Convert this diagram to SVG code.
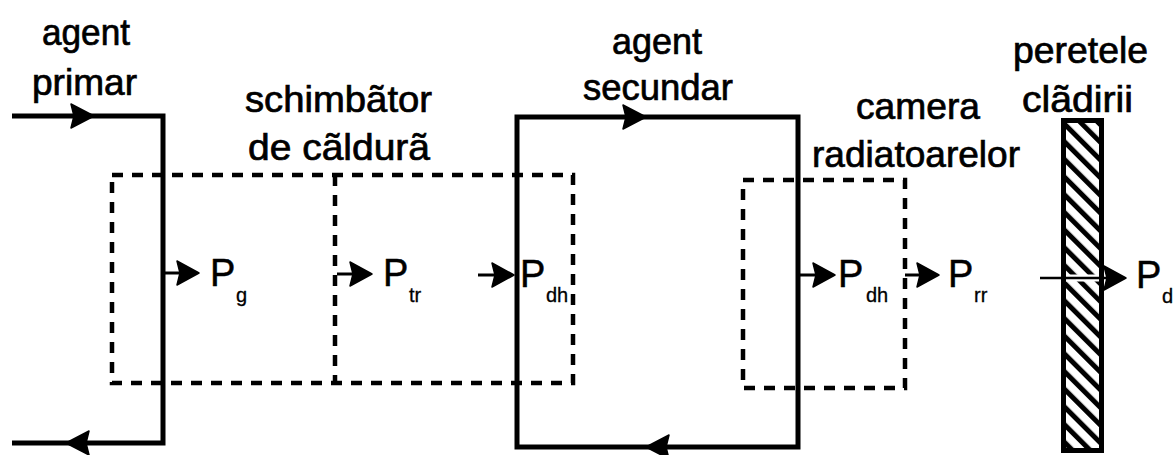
<svg xmlns="http://www.w3.org/2000/svg" width="1173" height="455" viewBox="0 0 1173 455">
  <style>
    .lbl { font-family: "Liberation Sans", Arial, sans-serif; font-size: 36px; fill: #000; stroke: #000; stroke-width: 0.7; }
    .p { font-family: "Liberation Sans", Arial, sans-serif; font-size: 38px; fill: #000; stroke: #000; stroke-width: 0.5; }
    .sub { font-family: "Liberation Sans", Arial, sans-serif; font-size: 20px; fill: #000; stroke: #000; stroke-width: 0.3; }
    .pipe { fill: none; stroke: #000; stroke-width: 5; stroke-linejoin: miter; }
    .bound { fill: none; stroke: #000; stroke-width: 4.5; stroke-dasharray: 11 9; }
    .flow { stroke: #000; stroke-width: 3; }
    .head { fill: #000; stroke: #000; stroke-width: 1.5; stroke-linejoin: round; }
  </style>
  <defs>
    <pattern id="hatch" patternUnits="userSpaceOnUse" width="12.5" height="12.5" patternTransform="rotate(-45)">
      <rect width="12.5" height="12.5" fill="#fff"/>
      <rect width="5" height="12.5" fill="#000"/>
    </pattern>
  </defs>

  <!-- dashed control boundaries -->
  <g id="boundaries">
    <rect class="bound" x="112" y="175" width="461" height="208"/>
    <line class="bound" x1="335" y1="175" x2="335" y2="383"/>
    <rect class="bound" x="743" y="180" width="162" height="208"/>
  </g>

  <!-- primary agent loop -->
  <g id="primary">
    <polyline class="pipe" points="12,116 163,116 163,443 12,443"/>
    <path class="head" d="M94,116 L71,104 L74,116 L71,128 Z"/>
    <path class="head" d="M66,443 L89,431 L86,443 L89,455 Z"/>
  </g>

  <!-- secondary agent loop -->
  <g id="secondary">
    <rect class="pipe" x="517" y="117" width="281" height="330"/>
    <path class="head" d="M646,117 L623,105 L626,117 L623,129 Z"/>
    <path class="head" d="M646,447 L669,435 L666,447 L669,459 Z"/>
  </g>

  <!-- building wall -->
  <g id="wall">
    <rect x="1063.5" y="120.5" width="38" height="330" fill="url(#hatch)" stroke="#000" stroke-width="5"/>
  </g>

  <!-- power flow arrows -->
  <g id="connectors">
    <line class="flow" x1="163" y1="273" x2="182" y2="273"/>
    <path class="head" d="M199,273 L177,261 L180,273 L177,285 Z"/>
    <line class="flow" x1="337" y1="274" x2="355" y2="274"/>
    <path class="head" d="M372,274 L350,262 L353,274 L350,286 Z"/>
    <line class="flow" x1="478" y1="275" x2="497" y2="275"/>
    <path class="head" d="M514,275 L492,263 L495,275 L492,287 Z"/>
    <line class="flow" x1="800" y1="275" x2="818" y2="275"/>
    <path class="head" d="M835,275 L813,263 L816,275 L813,287 Z"/>
    <line class="flow" x1="905" y1="275" x2="922" y2="275"/>
    <path class="head" d="M939,275 L917,263 L920,275 L917,287 Z"/>
    <line x1="1066" y1="278" x2="1099" y2="278" stroke="#fff" stroke-width="7"/>
    <line x1="1040" y1="278" x2="1108" y2="278" stroke="#000" stroke-width="2.5"/>
    <path class="head" d="M1126,278 L1104,266 L1107,278 L1104,290 Z"/>
  </g>

  <!-- power symbols -->
  <g id="powers">
    <text class="p" x="210" y="286">P</text><text class="sub" x="236" y="302">g</text>
    <text class="p" x="383" y="286">P</text><text class="sub" x="409" y="302">tr</text>
    <text class="p" x="520" y="287">P</text><text class="sub" x="546" y="302">dh</text>
    <text class="p" x="838" y="287">P</text><text class="sub" x="866" y="302">dh</text>
    <text class="p" x="948" y="287">P</text><text class="sub" x="974" y="302">rr</text>
    <text class="p" x="1136" y="288">P</text><text class="sub" x="1162" y="303">d</text>
  </g>

  <!-- captions -->
  <g id="labels">
    <text class="lbl" x="42" y="45" textLength="88" lengthAdjust="spacingAndGlyphs">agent</text>
    <text class="lbl" x="32" y="95" textLength="105" lengthAdjust="spacingAndGlyphs">primar</text>
    <text class="lbl" x="245" y="112" textLength="187" lengthAdjust="spacingAndGlyphs">schimbãtor</text>
    <text class="lbl" x="248" y="160" textLength="182" lengthAdjust="spacingAndGlyphs">de cãldurã</text>
    <text class="lbl" x="612" y="54" textLength="90" lengthAdjust="spacingAndGlyphs">agent</text>
    <text class="lbl" x="583" y="100" textLength="150" lengthAdjust="spacingAndGlyphs">secundar</text>
    <text class="lbl" x="856" y="119" textLength="124" lengthAdjust="spacingAndGlyphs">camera</text>
    <text class="lbl" x="812" y="167" textLength="208" lengthAdjust="spacingAndGlyphs">radiatoarelor</text>
    <text class="lbl" x="1013" y="63" textLength="135" lengthAdjust="spacingAndGlyphs">peretele</text>
    <text class="lbl" x="1022" y="112" textLength="111" lengthAdjust="spacingAndGlyphs">clãdirii</text>
  </g>
</svg>
